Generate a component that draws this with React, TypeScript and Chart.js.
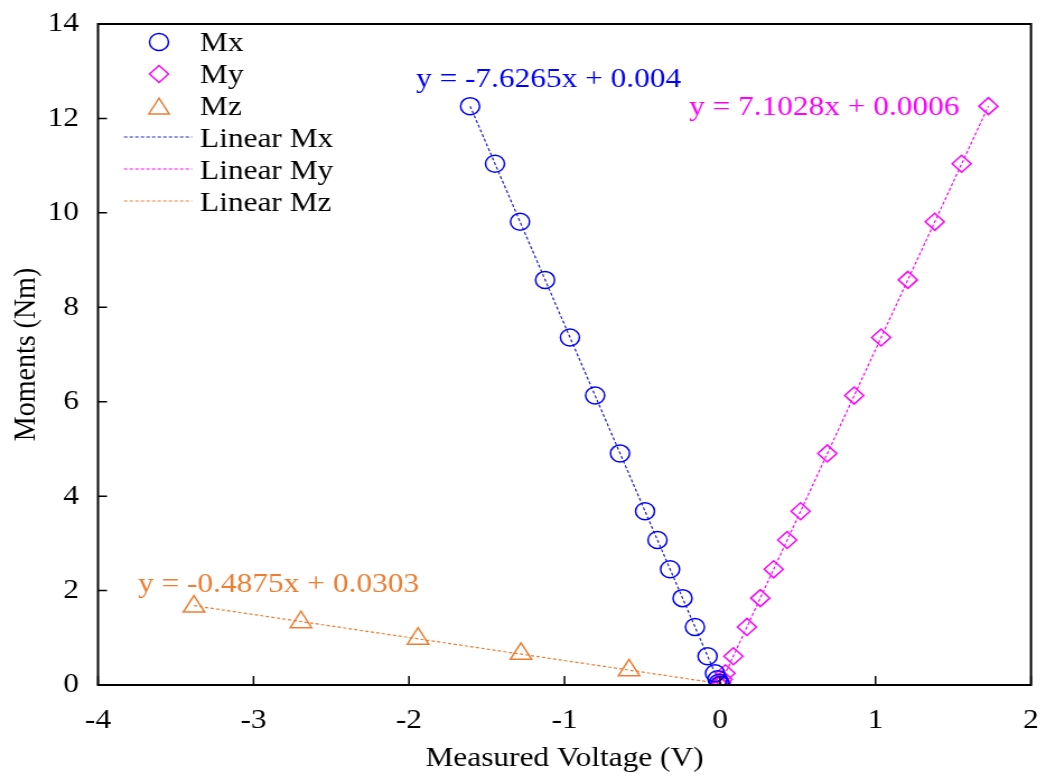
import React, { useEffect, useRef } from "react";
import { Chart, registerables } from "chart.js";

Chart.register(...registerables);

// ---- data ----
const mxVoltage = [-1.607, -1.447, -1.286, -1.125, -0.965, -0.803, -0.643, -0.482, -0.402, -0.321, -0.241, -0.161, -0.08, -0.032, -0.016, -0.006, 0];
const mxMoment = [12.26, 11.04, 9.81, 8.58, 7.36, 6.13, 4.905, 3.68, 3.07, 2.45, 1.84, 1.23, 0.61, 0.25, 0.12, 0.05, 0];
const myVoltage = [1.726, 1.554, 1.381, 1.208, 1.036, 0.863, 0.69, 0.518, 0.432, 0.345, 0.259, 0.173, 0.086, 0.035, 0.017, 0.007, 0];
const myMoment = [12.26, 11.04, 9.81, 8.58, 7.36, 6.13, 4.905, 3.68, 3.07, 2.45, 1.84, 1.23, 0.61, 0.25, 0.12, 0.05, 0];
const mzVoltage = [-3.383, -2.695, -1.942, -1.28, -0.585, 0];
const mzMoment = [1.66, 1.33, 0.98, 0.66, 0.31, 0];

const seriesNames = ["Mx", "My", "Mz"];
const trendNames = ["Linear Mx", "Linear My", "Linear Mz"];
const trendSlopes = [-7.6265, 7.1028, -0.4875];
const trendIntercepts = [0.004, 0.0006, 0.0303];
const equationLabels = ["y = -7.6265x + 0.004", "y = 7.1028x + 0.0006", "y = -0.4875x + 0.0303"];

const xTitle = "Measured Voltage (V)";
const yTitle = "Moments (Nm)";
const xMin = -4, xMax = 2, xStep = 1;
const yMin = 0, yMax = 14, yStep = 2;

// ---- styles ----
const markerColors = ["#0000ff", "#ff00ff", "#ed7d31"];
const trendColors = ["#1f1fcf", "#ff00ff", "#ed7d31"];
const pointStyles = ["circle", "rectRot", "triangle"];
const pointRadii = [8.5, 8.5, 11];
const FONT = "'Liberation Serif', 'Times New Roman', serif";
const FS = 28;

// page is 1046 wide; canvas bitmap is narrower and stretched horizontally
const PAGE_W = 1046;
const PAGE_H = 776;
const CANVAS_W = 934;
const S = PAGE_W / CANVAS_W;
const X = (v: number) => v / S;

function toPts(xs: number[], ys: number[]) {
  return xs.map((x, i) => ({ x, y: ys[i] }));
}

function trendPts(k: number, xs: number[]) {
  const lo = Math.min(...xs);
  const hi = Math.max(...xs);
  return [lo, hi].map((x) => ({ x, y: trendSlopes[k] * x + trendIntercepts[k] }));
}

function drawMarker(ctx: CanvasRenderingContext2D, style: string, x: number, y: number, r: number) {
  ctx.beginPath();
  if (style === "circle") {
    ctx.arc(x, y, r, 0, Math.PI * 2);
  } else if (style === "rectRot") {
    ctx.moveTo(x - r, y);
    ctx.lineTo(x, y - r);
    ctx.lineTo(x + r, y);
    ctx.lineTo(x, y + r);
    ctx.closePath();
  } else {
    const h = r * 1.5;
    const w = r * Math.sqrt(3);
    const top = y - h / 2;
    ctx.moveTo(x, top);
    ctx.lineTo(x + w / 2, top + h);
    ctx.lineTo(x - w / 2, top + h);
    ctx.closePath();
  }
  ctx.stroke();
}

const noAutoPad = (s: any) => {
  s.paddingTop = 0;
  s.paddingBottom = 0;
  s.paddingLeft = 0;
  s.paddingRight = 0;
};

const decorPlugin = {
  id: "decor",
  afterDraw(chart: any) {
    const { ctx, chartArea: ca, scales } = chart;
    ctx.save();
    // frame
    ctx.strokeStyle = "#000";
    ctx.lineWidth = 2;
    ctx.strokeRect(ca.left, ca.top, ca.right - ca.left, ca.bottom - ca.top);
    // inward tick marks
    ctx.lineWidth = 1.5;
    ctx.beginPath();
    scales.x.ticks.forEach((t: any) => {
      const p = scales.x.getPixelForValue(t.value);
      ctx.moveTo(p, ca.bottom);
      ctx.lineTo(p, ca.bottom - 9);
    });
    scales.y.ticks.forEach((t: any) => {
      const p = scales.y.getPixelForValue(t.value);
      ctx.moveTo(ca.left, p);
      ctx.lineTo(ca.left + X(9), p);
    });
    ctx.stroke();

    // legend
    ctx.font = `${FS}px ${FONT}`;
    ctx.textBaseline = "alphabetic";
    ctx.textAlign = "left";
    const baselines = [51, 83, 115, 147, 179, 211];
    for (let i = 0; i < 3; i++) {
      ctx.strokeStyle = markerColors[i];
      ctx.lineWidth = 1.5;
      ctx.setLineDash([]);
      drawMarker(ctx, pointStyles[i], X(159), baselines[i] - 9, i === 2 ? 10.5 : 8.5);
      ctx.fillStyle = "#000";
      ctx.fillText(seriesNames[i], X(200), baselines[i]);
    }
    for (let i = 0; i < 3; i++) {
      const y = baselines[i + 3] - 10;
      ctx.strokeStyle = trendColors[i];
      ctx.lineWidth = 1.2;
      ctx.setLineDash([3, 2]);
      ctx.beginPath();
      ctx.moveTo(X(124), y);
      ctx.lineTo(X(192), y);
      ctx.stroke();
      ctx.setLineDash([]);
      ctx.fillStyle = "#000";
      ctx.fillText(trendNames[i], X(200), baselines[i + 3]);
    }

    // trendline equations
    const eqPos = [
      [416, 87],
      [689, 115],
      [138, 592],
    ];
    for (let i = 0; i < 3; i++) {
      ctx.fillStyle = markerColors[i];
      ctx.fillText(equationLabels[i], X(eqPos[i][0]), eqPos[i][1]);
    }
    ctx.restore();
  },
};

export default function App() {
  const ref = useRef<HTMLCanvasElement | null>(null);

  useEffect(() => {
    if (!ref.current) return;
    const seriesX = [mxVoltage, myVoltage, mzVoltage];
    const seriesY = [mxMoment, myMoment, mzMoment];
    const datasets: any[] = [];
    for (let i = 0; i < 3; i++) {
      datasets.push({
        label: seriesNames[i],
        data: toPts(seriesX[i], seriesY[i]),
        showLine: false,
        pointStyle: pointStyles[i],
        pointRadius: pointRadii[i],
        pointBorderWidth: 1.5,
        pointBorderColor: markerColors[i],
        pointBackgroundColor: "rgba(0,0,0,0)",
        borderColor: markerColors[i],
        backgroundColor: "rgba(0,0,0,0)",
      });
    }
    for (let i = 0; i < 3; i++) {
      datasets.push({
        label: trendNames[i],
        data: trendPts(i, seriesX[i]),
        showLine: true,
        pointRadius: 0,
        borderColor: trendColors[i],
        borderWidth: 1.2,
        borderDash: [3, 2],
        fill: false,
      });
    }

    const chart = new Chart(ref.current, {
      type: "scatter",
      data: { datasets },
      options: {
        animation: false,
        responsive: false,
        devicePixelRatio: 1,
        events: [],
        layout: { padding: { left: 0, right: CANVAS_W - X(1031), top: 24, bottom: 0 } },
        plugins: {
          legend: { display: false },
          tooltip: { enabled: false },
          title: { display: false },
        },
        scales: {
          x: {
            type: "linear",
            min: xMin,
            max: xMax,
            grid: { display: false, drawTicks: false },
            border: { display: false },
            ticks: {
              stepSize: xStep,
              padding: 19,
              color: "#000",
              font: { family: FONT, size: FS },
              callback: (v: any) => String(v),
            },
            title: {
              display: true,
              text: xTitle,
              color: "#000",
              font: { family: FONT, size: FS },
              padding: { top: 0, bottom: 1 },
            },
            afterFit: (s: any) => {
              s.height = PAGE_H - 685;
              noAutoPad(s);
            },
          },
          y: {
            type: "linear",
            min: yMin,
            max: yMax,
            grid: { display: false, drawTicks: false },
            border: { display: false },
            ticks: {
              stepSize: yStep,
              padding: 17,
              color: "#000",
              font: { family: FONT, size: FS },
              callback: (v: any) => String(v),
            },
            title: {
              display: true,
              text: yTitle,
              color: "#000",
              font: { family: FONT, size: FS },
              padding: { top: 7, bottom: 0 },
            },
            afterFit: (s: any) => {
              s.width = X(98);
              noAutoPad(s);
            },
          },
        },
      },
      plugins: [decorPlugin],
    });
    return () => chart.destroy();
  }, []);

  return (
    <div style={{ position: "fixed", left: 0, top: 0, width: PAGE_W, height: PAGE_H, background: "#fff" }}>
      <canvas
        ref={ref}
        width={CANVAS_W}
        height={PAGE_H}
        style={{ width: PAGE_W + "px", height: PAGE_H + "px", display: "block" }}
      />
    </div>
  );
}
